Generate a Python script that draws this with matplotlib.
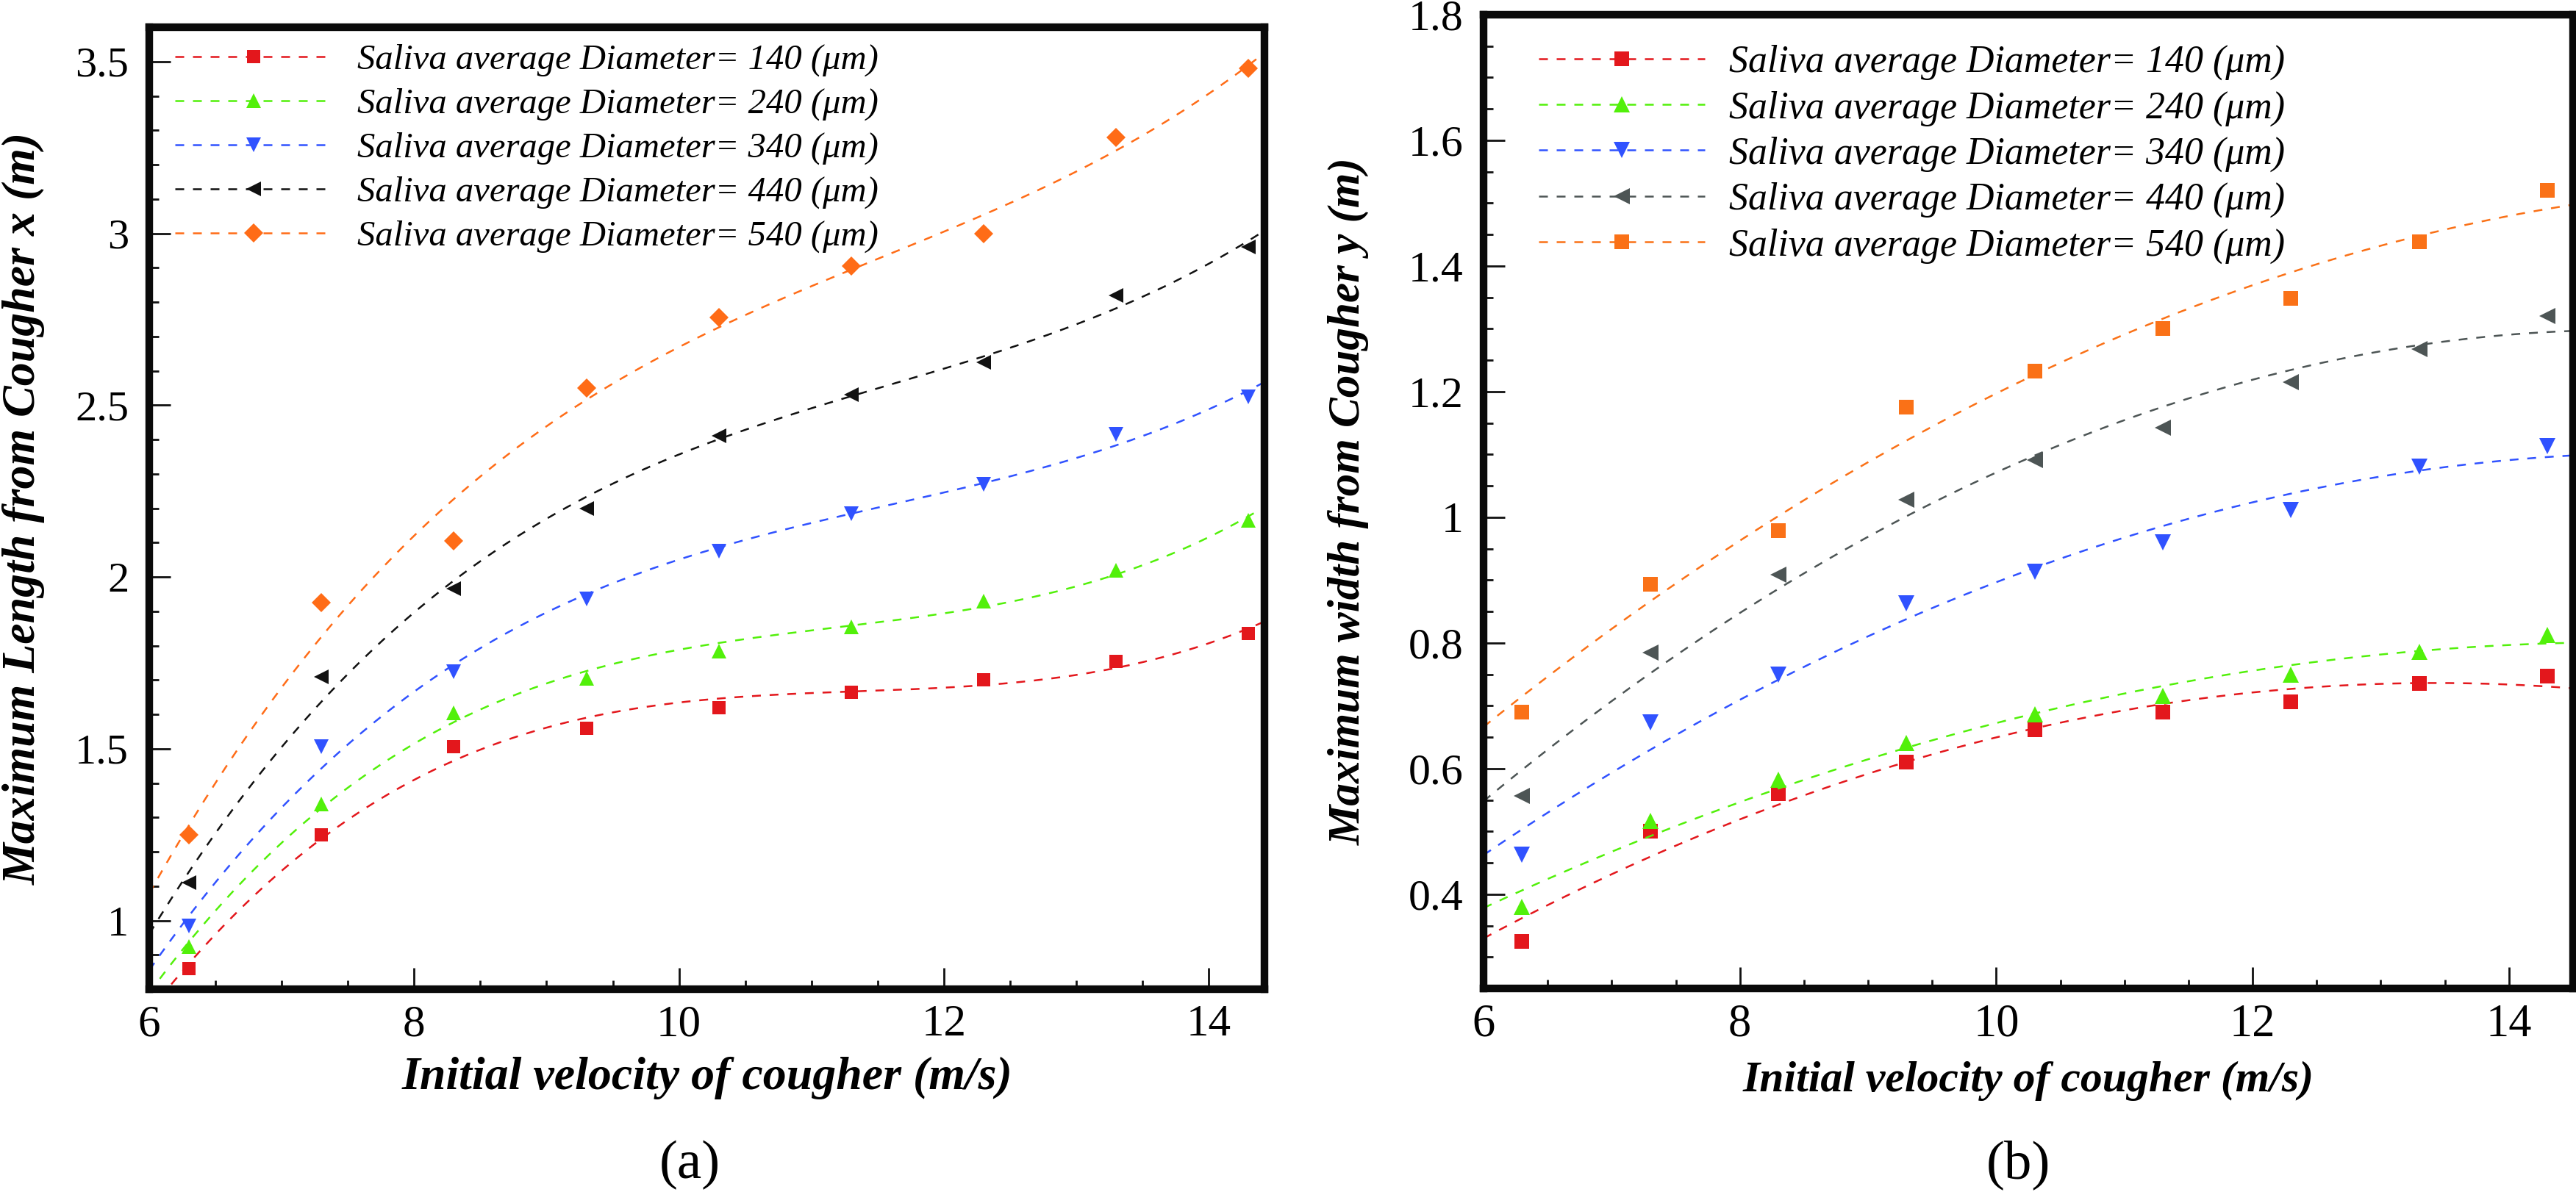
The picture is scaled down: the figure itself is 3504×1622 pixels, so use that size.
import numpy as np
import matplotlib
matplotlib.use('Agg')
import matplotlib.pyplot as plt
from matplotlib.ticker import MultipleLocator, FuncFormatter

SERIF = ['Liberation Serif', 'DejaVu Serif']
plt.rcParams['font.family'] = SERIF

# initial velocity of cougher (m/s)
velocity = [6.3, 7.3, 8.3, 9.3, 10.3, 11.3, 12.3, 13.3, 14.3]
diameters = ['140', '240', '340', '440', '540']

# (a) maximum length from cougher x (m)
length_140 = [0.86, 1.25, 1.505, 1.56, 1.62, 1.665, 1.70, 1.755, 1.835]
length_240 = [0.925, 1.34, 1.605, 1.705, 1.785, 1.855, 1.93, 2.02, 2.165]
length_340 = [0.985, 1.505, 1.725, 1.935, 2.075, 2.185, 2.27, 2.415, 2.525]
length_440 = [1.11, 1.71, 1.965, 2.20, 2.41, 2.53, 2.625, 2.82, 2.96]
length_540 = [1.25, 1.925, 2.105, 2.55, 2.755, 2.905, 3.0, 3.28, 3.48]

# (b) maximum width from cougher y (m)
width_140 = [0.325, 0.50, 0.56, 0.61, 0.662, 0.69, 0.706, 0.735, 0.747]
width_240 = [0.38, 0.517, 0.582, 0.641, 0.686, 0.716, 0.749, 0.786, 0.813]
width_340 = [0.463, 0.673, 0.749, 0.863, 0.913, 0.96, 1.011, 1.081, 1.113]
width_440 = [0.557, 0.785, 0.909, 1.028, 1.091, 1.142, 1.215, 1.268, 1.32]
width_540 = [0.69, 0.893, 0.979, 1.175, 1.233, 1.30, 1.349, 1.438, 1.52]

colors_a = ['#e3171c', '#52f00a', '#3052ff', '#111111', '#ff6c17']
markers_a = ['s', '^', 'v', '<', 'D']
colors_b = ['#e3171c', '#52f00a', '#3052ff', '#4d5555', '#fa7117']
markers_b = ['s', '^', 'v', '<', 's']

W, H = 3505, 1622
fig = plt.figure(figsize=(W / 100, H / 100), dpi=100)
ax1 = fig.add_axes([203 / W, 1 - 1346 / H, 1517 / W, 1309 / H])
ax2 = fig.add_axes([2018 / W, 1 - 1345 / H, 1482 / W, 1325 / H])

fmt = FuncFormatter(lambda v, p: '%g' % v)


def draw_panel(ax, series, colors, markers, deg, xmax, msize):
    xs = np.linspace(6, xmax, 300)
    handles = []
    for ys, c, m, d in zip(series, colors, markers, diameters):
        # fitted trend line (dashed) + raw points
        coef = np.polyfit(velocity, ys, deg)
        ax.plot(xs, np.polyval(coef, xs), color=c, lw=1.8,
                linestyle=(0, (4.8, 4.8)))
        ms = msize
        if m in ('^', 'v', '<'):
            ms = msize * 1.12
        ax.plot(velocity, ys, linestyle='none', marker=m, color=c,
                markersize=ms, markeredgewidth=0)
        h, = ax.plot([], [], color=c, lw=1.8, linestyle=(0, (4.8, 4.8)),
                     marker=m, markersize=ms, markeredgewidth=0)
        handles.append(h)
    labels = ['Saliva average Diameter= %s (\u03bcm)' % d for d in diameters]
    return handles, labels


def style_axes(ax, xmax, ylim, ymajor, yminor, tick_size):
    ax.set_xlim(6, xmax)
    ax.set_ylim(*ylim)
    ax.xaxis.set_major_locator(MultipleLocator(2))
    ax.xaxis.set_minor_locator(MultipleLocator(0.5))
    ax.yaxis.set_major_locator(MultipleLocator(ymajor))
    ax.yaxis.set_minor_locator(MultipleLocator(yminor))
    ax.xaxis.set_major_formatter(fmt)
    ax.yaxis.set_major_formatter(fmt)
    for s in ax.spines.values():
        s.set_linewidth(7.5)
        s.set_color('#0a0a0a')
    ax.tick_params(which='both', direction='in', top=False, right=False,
                   width=2, color='#111111')
    ax.tick_params(which='major', length=21)
    ax.tick_params(which='minor', length=9)
    ax.tick_params(axis='x', labelsize=tick_size + 2, pad=15)
    ax.tick_params(axis='y', labelsize=tick_size, pad=20)
    for t in ax.get_xticklabels() + ax.get_yticklabels():
        t.set_family(SERIF)


series_a = [length_140, length_240, length_340, length_440, length_540]
series_b = [width_140, width_240, width_340, width_440, width_540]

h1, l1 = draw_panel(ax1, series_a, colors_a, markers_a, 3, 14.42, 13)
style_axes(ax1, 14.42, (0.8, 3.6), 0.5, 0.1, 42)
ax1.set_xlabel('Initial velocity of cougher (m/s)', fontsize=46,
               fontweight='bold', style='italic', family=SERIF)
ax1.set_ylabel('Maximum Length from Cougher x (m)', fontsize=46,
               fontweight='bold', style='italic', family=SERIF)
ax1.xaxis.set_label_coords(0.5, -0.070)
ax1.yaxis.set_label_coords(-0.093, 0.5)
ax1.legend(h1, l1, loc='upper left', bbox_to_anchor=(238 / W, 1 - 60 / H),
           bbox_transform=fig.transFigure, frameon=False, numpoints=1,
           handlelength=4.4, handletextpad=0.7, labelspacing=0.32,
           borderpad=0, borderaxespad=0,
           prop={'size': 35, 'style': 'italic', 'family': SERIF})

h2, l2 = draw_panel(ax2, series_b, colors_b, markers_b, 2, 14.5, 14.5)
style_axes(ax2, 14.5, (0.25, 1.8), 0.2, 0.05, 43)
ax2.set_xlabel('Initial velocity of cougher (m/s)', fontsize=43,
               fontweight='bold', style='italic', family=SERIF)
ax2.set_ylabel('Maximum width from Cougher y (m)', fontsize=44,
               fontweight='bold', style='italic', family=SERIF)
ax2.xaxis.set_label_coords(0.5, -0.0747)
ax2.yaxis.set_label_coords(-0.105, 0.5)
ax2.legend(h2, l2, loc='upper left', bbox_to_anchor=(2093 / W, 1 - 61 / H),
           bbox_transform=fig.transFigure, frameon=False, numpoints=1,
           handlelength=4.35, handletextpad=0.64, labelspacing=0.27,
           borderpad=0, borderaxespad=0,
           prop={'size': 37.4, 'style': 'italic', 'family': SERIF})

fig.text(938 / W, 1 - 1585 / H, '(a)', fontsize=54, ha='center', va='center',
         family=SERIF)
fig.text(2745 / W, 1 - 1585 / H, '(b)', fontsize=54, ha='center', va='center',
         family=SERIF)

fig.savefig('out.png', dpi=100)
